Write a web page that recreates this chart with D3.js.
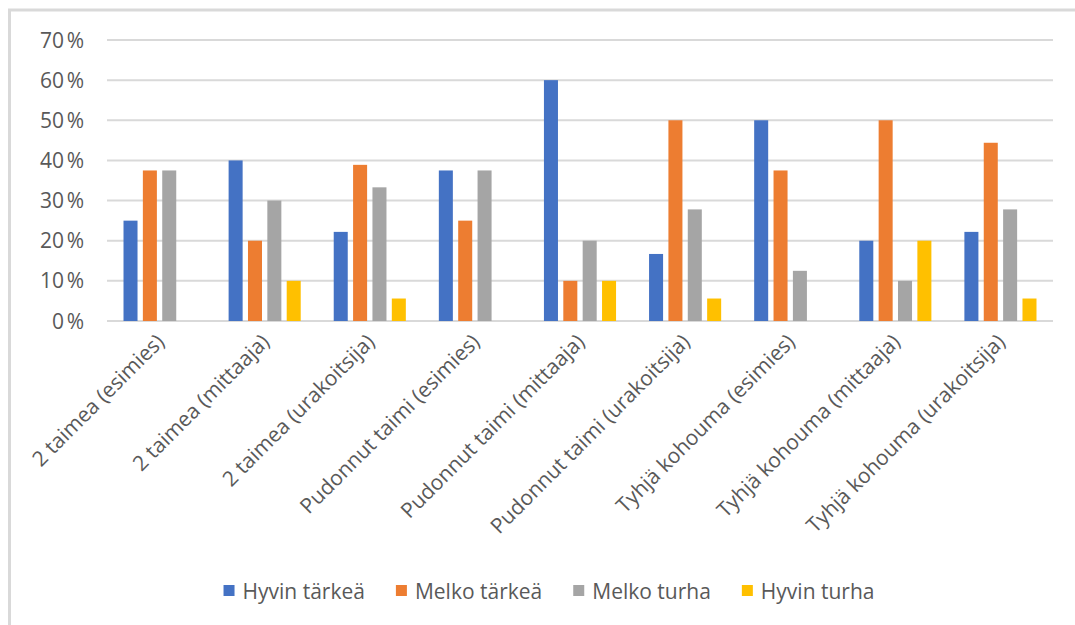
<!DOCTYPE html>
<html>
<head>
<meta charset="utf-8">
<script src="https://cdn.jsdelivr.net/npm/d3@7"></script>
<style>
  body { margin: 0; background: #fff; }
  svg { display: block; font-family: "Open Sans", sans-serif; }
  .tick-label, .cat-label, .legend-label { fill: #595959; font-size: 21px; }
</style>
</head>
<body>
<svg width="1075" height="625"></svg>
<script>
// Clustered column chart: importance ratings by case and respondent group

var categories = [
	"2 taimea (esimies)", "2 taimea (mittaaja)", "2 taimea (urakoitsija)",
	"Pudonnut taimi (esimies)", "Pudonnut taimi (mittaaja)", "Pudonnut taimi (urakoitsija)",
	"Tyhjä kohouma (esimies)", "Tyhjä kohouma (mittaaja)", "Tyhjä kohouma (urakoitsija)"
];
var seriesNames = ["Hyvin tärkeä", "Melko tärkeä", "Melko turha", "Hyvin turha"];
var seriesColors = ["#4472C4", "#ED7D31", "#A5A5A5", "#FFC000"];

var hyvinTarkea = [0.25, 0.40, 0.222, 0.375, 0.60, 0.167, 0.50, 0.20, 0.222];
var melkoTarkea = [0.375, 0.20, 0.389, 0.25, 0.10, 0.50, 0.375, 0.50, 0.444];
var melkoTurha  = [0.375, 0.30, 0.333, 0.375, 0.20, 0.278, 0.125, 0.10, 0.278];
var hyvinTurha  = [0, 0.10, 0.056, 0, 0.10, 0.056, 0, 0.20, 0.056];
var yTicks = [0, 0.1, 0.2, 0.3, 0.4, 0.5, 0.6, 0.7];

var series = [hyvinTarkea, melkoTarkea, melkoTurha, hyvinTurha];

var svg = d3.select("svg");

// chart frame (only left and top edges are visible)
svg.append("line").attr("x1", 9.5).attr("x2", 9.5).attr("y1", 9).attr("y2", 625)
	.attr("stroke", "#d9d9d9").attr("stroke-width", 3);
svg.append("line").attr("x1", 8).attr("x2", 1075).attr("y1", 10).attr("y2", 10)
	.attr("stroke", "#d9d9d9").attr("stroke-width", 3);

var x0 = d3.scaleBand()
	.domain(categories)
	.range([107, 1053])
	.paddingInner(0.314)
	.paddingOuter(0.157);

var x1 = d3.scaleBand()
	.domain(d3.range(seriesNames.length))
	.range([0, x0.bandwidth()])
	.paddingInner(0.276);

var y = d3.scaleLinear().domain([0, 0.7]).range([321, 40]);

// gridlines
svg.append("g")
	.selectAll("line")
	.data(yTicks)
	.enter().append("line")
	.attr("x1", 107).attr("x2", 1053)
	.attr("y1", d => y(d)).attr("y2", d => y(d))
	.attr("stroke", "#d9d9d9").attr("stroke-width", 2);

// y labels
svg.append("g")
	.selectAll("text")
	.data(yTicks)
	.enter().append("text")
	.attr("class", "tick-label")
	.attr("x", 84)
	.attr("y", d => y(d))
	.attr("dy", "0.36em")
	.attr("text-anchor", "end")
	.text(d => Math.round(d * 100) + "\u202f%");

// bars
var groups = svg.append("g")
	.selectAll("g")
	.data(categories)
	.enter().append("g")
	.attr("transform", c => "translate(" + x0(c) + ",0)");

groups.selectAll("rect")
	.data((c, i) => series.map((s, k) => ({k: k, v: s[i]})))
	.enter().append("rect")
	.filter(d => d.v > 0)
	.attr("x", d => x1(d.k))
	.attr("width", x1.bandwidth())
	.attr("y", d => y(d.v))
	.attr("height", d => y(0) - y(d.v))
	.attr("fill", d => seriesColors[d.k]);

// category labels, rotated
svg.append("g")
	.selectAll("text")
	.data(categories)
	.enter().append("text")
	.attr("class", "cat-label")
	.attr("text-anchor", "end")
	.attr("transform", c => "translate(" + (x0(c) + x0.bandwidth() / 2 + 6) + ",343) rotate(-45)")
	.text(c => c);

// legend
var legend = svg.append("g");
var items = legend.selectAll("g")
	.data(seriesNames)
	.enter().append("g");
items.append("rect")
	.attr("width", 11).attr("height", 11)
	.attr("y", 585)
	.attr("fill", (d, i) => seriesColors[i]);
items.append("text")
	.attr("class", "legend-label")
	.attr("x", 19)
	.attr("y", 591)
	.attr("dy", "0.36em")
	.text(d => d);

var xpos = 0;
var widths = [];
items.each(function(d) {
	widths.push(19 + d3.select(this).select("text").node().getComputedTextLength());
});
var totalW = d3.sum(widths) + 31 * (widths.length - 1);
xpos = 549 - totalW / 2;
items.attr("transform", (d, i) => {
	var t = "translate(" + xpos + ",0)";
	xpos += widths[i] + 31;
	return t;
});
</script>
</body>
</html>
